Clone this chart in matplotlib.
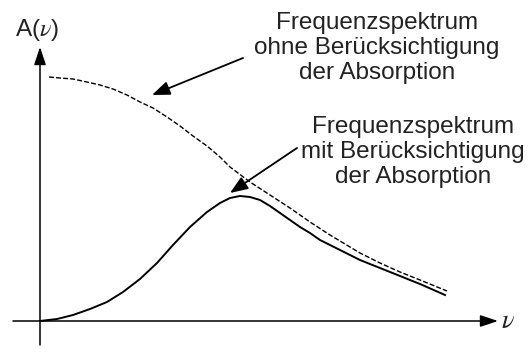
import matplotlib
matplotlib.use("Agg")
import matplotlib.pyplot as plt

plt.rcParams['font.family'] = ['Liberation Sans', 'DejaVu Sans']
plt.rcParams['mathtext.fontset'] = 'stix'

# spectrum without absorption (dashed)
nu_free = [0.09, 0.20, 0.33, 0.47, 0.60, 0.73, 0.87, 1.00, 1.13, 1.27, 1.40, 1.53, 1.67,
           1.80, 1.90, 2.10, 2.30, 2.50, 2.70, 2.90, 3.10, 3.20, 3.40, 3.60, 3.80, 4.07]
A_free = [2.44, 2.43, 2.42, 2.39, 2.36, 2.32, 2.26, 2.19, 2.13, 2.04, 1.95, 1.85, 1.75,
          1.64, 1.54, 1.39, 1.26, 1.13, 0.99, 0.86, 0.74, 0.68, 0.58, 0.49, 0.41, 0.30]

# spectrum with absorption (solid)
nu_abs = [0.00, 0.17, 0.33, 0.50, 0.67, 0.83, 1.00, 1.17, 1.33, 1.50, 1.67, 1.80, 1.90, 2.00,
          2.10, 2.20, 2.30, 2.40, 2.50, 2.60, 2.70, 2.80, 3.00, 3.20, 3.40, 3.60, 3.80, 4.05]
A_abs = [0.00, 0.02, 0.06, 0.12, 0.19, 0.29, 0.42, 0.58, 0.76, 0.94, 1.09, 1.18, 1.23, 1.25,
         1.24, 1.21, 1.15, 1.08, 1.01, 0.94, 0.88, 0.81, 0.71, 0.61, 0.53, 0.45, 0.37, 0.26]

label_free = "Frequenzspektrum\nohne Berücksichtigung\nder Absorption"
label_abs = "Frequenzspektrum\nmit Berücksichtigung\nder Absorption"

fig = plt.figure(figsize=(5.28, 3.49), dpi=100)
ax = fig.add_axes([0, 0, 1, 1])
ax.set_xlim(-0.40, 4.88)
ax.set_ylim(-0.28, 3.21)
ax.axis('off')

txt = '#222222'

# coordinate axes with arrow heads
axis_arrow = dict(arrowstyle='-|>,head_length=0.9,head_width=0.3', color='black',
                  lw=1.1, shrinkA=0, shrinkB=0, mutation_scale=12)
ax.annotate('', xy=(4.58, 0), xytext=(-0.27, 0), arrowprops=axis_arrow)
ax.annotate('', xy=(0, 2.74), xytext=(0, -0.24), arrowprops=axis_arrow)

ax.plot(nu_free, A_free, color='black', lw=1.0, dashes=(3.6, 1.5))
ax.plot(nu_abs, A_abs, color='black', lw=1.4, solid_joinstyle='round')

ax.text(-0.03, 2.91, r'A($\nu$)', fontsize=17.5, color=txt, ha='center', va='center')
ax.text(4.68, 0.0, r'$\nu$', fontsize=19, color=txt, ha='center', va='center')

ax.text(3.37, 2.73, label_free, fontsize=17.5, color=txt, ha='center', va='center',
        linespacing=1.15)
ax.text(3.73, 1.69, label_abs, fontsize=17.5, color=txt, ha='center', va='center',
        linespacing=1.15)

pointer = dict(arrowstyle='-|>,head_length=0.9,head_width=0.35', color='black',
               lw=1.3, shrinkA=0, shrinkB=0, mutation_scale=12)
ax.annotate('', xy=(1.12, 2.26), xytext=(2.03, 2.63), arrowprops=pointer)
ax.annotate('', xy=(1.90, 1.28), xytext=(2.57, 1.73), arrowprops=pointer)

fig.savefig('out.png', dpi=100)
